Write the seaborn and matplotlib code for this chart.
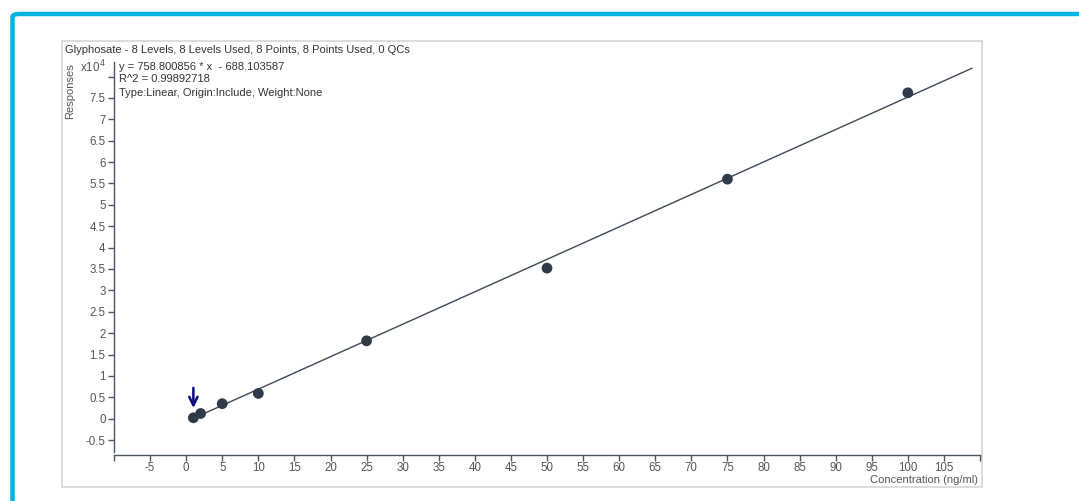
import matplotlib
matplotlib.use("Agg")
import matplotlib.pyplot as plt
from matplotlib.patches import FancyBboxPatch, Rectangle
from matplotlib.ticker import FixedLocator, FuncFormatter
import numpy as np
import pandas as pd
import seaborn as sns

# Calibration data
concentration = [1, 2, 5, 10, 25, 50, 75, 100]
response = [200, 1200, 3500, 5900, 18200, 35200, 56000, 76200]
slope = 758.800856
intercept = -688.103587
fit_range = [1, 108.9]

title_text = "Glyphosate - 8 Levels, 8 Levels Used, 8 Points, 8 Points Used, 0 QCs"
fit_lines = ["y = 758.800856 * x  - 688.103587",
             "R^2 = 0.99892718",
             "Type:Linear, Origin:Include, Weight:None"]
x_ticks = list(range(-10, 115, 5))
y_ticks = [-5000, 0, 5000, 10000, 15000, 20000, 25000, 30000, 35000, 40000,
           45000, 50000, 55000, 60000, 65000, 70000, 75000, 80000]
x_label = "Concentration (ng/ml)"
y_label = "Responses"

sns.set_theme(style="white")
plt.rcParams["font.family"] = ["Liberation Sans", "DejaVu Sans"]

W, H = 1079, 501
fig = plt.figure(figsize=(W / 100, H / 100), dpi=100)
fig.patch.set_facecolor("white")


def fx(px):
    return px / W


def fy(py):
    return 1 - py / H


# Outer cyan frame with rounded corner
frame = FancyBboxPatch((fx(12.5), fy(560)), fx(1200), fy(14) - fy(560),
                       boxstyle="round,pad=0,rounding_size=0.006",
                       transform=fig.transFigure, facecolor="none",
                       edgecolor="#00b4e1", linewidth=3.2, zorder=-2)
fig.patches.append(frame)

# Inner light panel
panel = Rectangle((fx(62), fy(487)), fx(982) - fx(62), fy(41) - fy(487),
                  transform=fig.transFigure, facecolor="none",
                  edgecolor="#d9d9d9", linewidth=1.3, zorder=-1)
fig.patches.append(panel)

ylo, yhi = -7800, 83400
ax = fig.add_axes([fx(114), fy(452), fx(980) - fx(114), fy(62) - fy(452)])
ax.set_facecolor("none")

# Regression line and calibration points
fit_x = np.array(fit_range)
fit_df = pd.DataFrame({"x": fit_x, "y": slope * fit_x + intercept})
sns.lineplot(data=fit_df, x="x", y="y", ax=ax, color="#3d4755",
             linewidth=1.0, zorder=2)
pts = pd.DataFrame({"x": concentration, "y": response})
sns.scatterplot(data=pts, x="x", y="y", ax=ax, color="#2e3a48", s=60,
                edgecolor="none", zorder=3)

# Marker arrow above the lowest level
ax.annotate("", xy=(concentration[0], response[0] + 2300),
            xytext=(concentration[0], response[0] + 7000),
            arrowprops=dict(arrowstyle="->", color="#0b0b80", lw=1.8,
                            mutation_scale=15, shrinkA=0, shrinkB=0),
            zorder=4)

ax.set_xlim(-10, 110)
ax.set_ylim(ylo, yhi)
ax.set_xlabel("")
ax.set_ylabel("")

ax.xaxis.set_major_locator(FixedLocator(x_ticks))
ax.xaxis.set_major_formatter(FuncFormatter(
    lambda v, p: "" if v in (-10, 110) else f"{v:g}"))
ax.yaxis.set_major_locator(FixedLocator(y_ticks))
ax.yaxis.set_major_formatter(FuncFormatter(
    lambda v, p: "" if v >= 80000 else f"{v / 1e4:g}"))

for side in ("top", "right"):
    ax.spines[side].set_visible(False)
for side in ("left", "bottom"):
    ax.spines[side].set_visible(True)
    ax.spines[side].set_color("#4a5360")
    ax.spines[side].set_linewidth(1.0)
ax.spines["bottom"].set_position(("outward", 2))
ax.tick_params(axis="both", which="major", direction="out", length=4,
               width=1.0, color="#4a5360", labelcolor="#555555",
               labelsize=8.3, pad=2, bottom=True, left=True)
ax.tick_params(axis="x", pad=1.5)
ax.grid(False)

text_color = "#333333"
fs = 8.0
fig.text(fx(65), fy(50), title_text, ha="left", va="center",
         fontsize=fs, color=text_color)
for i, line in enumerate(fit_lines):
    fig.text(fx(119), fy(66.5 + 13 * i), line, ha="left", va="center",
             fontsize=fs, color=text_color)
fig.text(fx(107), fy(67), r"x10$^{\,4}$", ha="right", va="center",
         fontsize=8.3, color="#555555")
fig.text(fx(70), fy(91), y_label, ha="center", va="center", rotation=90,
         fontsize=8.0, color="#555555")
fig.text(fx(978), fy(480), x_label, ha="right", va="center",
         fontsize=8.0, color="#555555")

fig.savefig("out.png", dpi=100)
